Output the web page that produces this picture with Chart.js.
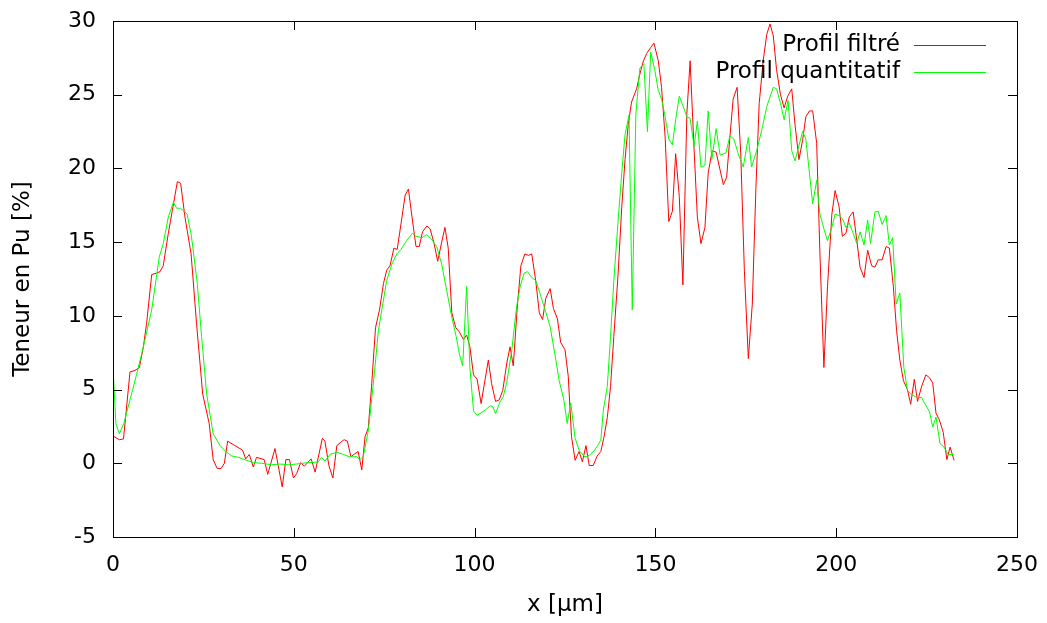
<!DOCTYPE html>
<html><head><meta charset="utf-8">
<script src="https://cdn.jsdelivr.net/npm/chart.js@4/dist/chart.umd.min.js"></script>
<style>html,body{margin:0;padding:0;background:#fff;}#c{display:block;}</style>
</head><body>
<canvas id="c" width="1047" height="623"></canvas>
<script>
const seriesNames = ["Profil filtré", "Profil quantitatif"];
const xTitle = "x [µm]";
const yTitle = "Teneur en Pu [%]";
const xTicks = [0, 50, 100, 150, 200, 250];
const yTicks = [-5, 0, 5, 10, 15, 20, 25, 30];

const filtreX = [0.0,1.75,2.9,4.7,6.1,7.3,8.4,9.3,10.7,12.1,13.0,13.9,15.3,17.8,18.7,19.9,21.6,23.1,24.8,26.6,27.7,28.8,29.9,30.8,31.7,33.7,35.8,36.7,37.7,38.8,39.7,41.8,42.8,44.8,46.8,47.8,48.8,49.9,50.8,51.9,52.9,54.8,55.9,57.9,58.6,59.7,60.8,61.9,63.9,64.8,65.8,66.9,67.8,68.8,69.7,70.6,71.5,72.6,73.7,74.8,75.7,76.6,77.7,78.6,79.8,80.8,81.7,82.8,83.8,84.7,85.6,86.8,87.7,88.8,89.8,90.9,91.8,92.7,93.7,94.8,95.8,96.9,97.8,98.7,99.7,100.7,101.8,103.8,104.7,105.8,106.8,107.8,108.9,109.8,110.7,111.8,112.8,113.9,114.9,115.8,116.9,117.9,118.8,119.7,120.9,121.8,122.9,123.8,125.0,125.9,126.8,127.8,128.9,129.8,130.8,131.7,132.8,133.9,134.9,135.8,136.7,137.6,138.5,139.7,140.7,141.6,142.5,143.4,144.8,145.7,146.7,147.6,148.7,149.6,150.8,151.7,152.7,153.7,154.7,155.6,156.6,157.6,158.7,159.6,160.7,161.6,162.6,163.7,164.6,165.7,166.8,167.7,168.8,169.7,170.6,171.5,172.6,173.6,174.6,175.7,176.8,177.8,178.7,179.8,180.8,181.7,182.6,183.5,184.6,185.6,186.6,187.7,188.6,189.7,190.7,191.6,192.6,193.5,194.6,195.5,196.6,197.6,198.8,199.7,200.8,201.7,202.7,203.6,204.7,205.7,206.6,207.7,208.7,209.8,210.7,211.6,212.7,213.8,214.7,215.8,216.7,217.6,218.6,219.7,220.6,221.6,222.5,223.6,224.8,225.8,226.7,227.6,228.5,229.6,230.6,231.5,232.6];
const filtreY = [1.85,1.6,1.65,6.2,6.3,6.5,7.9,9.5,12.8,12.9,13.0,13.4,15.6,19.1,19.0,16.7,14.2,9.5,4.7,2.7,0.25,-0.35,-0.35,0.0,1.5,1.2,0.9,0.3,0.6,-0.25,0.4,0.25,-0.75,1.0,-1.6,0.25,0.25,-1.0,-0.7,0.05,-0.2,0.3,-0.6,1.7,1.5,-0.15,-1.0,1.2,1.6,1.5,0.45,0.65,0.8,-0.45,1.8,2.4,5.2,9.2,10.4,12.2,13.1,13.4,14.6,14.5,16.5,18.2,18.6,16.5,14.7,14.7,15.7,16.1,15.9,14.9,13.7,15.0,16.0,14.6,10.2,9.2,8.9,8.4,8.7,7.9,6.0,5.7,4.05,7.0,5.4,4.2,4.3,4.95,6.8,7.9,6.6,10.6,13.4,14.2,14.1,14.2,12.4,10.2,9.75,11.2,11.85,10.5,9.8,8.2,7.7,5.9,1.8,0.2,0.8,0.1,1.2,-0.15,-0.15,0.5,0.8,1.8,3.1,5.2,8.6,12.9,17.4,20.6,23.0,24.5,25.4,26.4,27.3,27.8,28.2,28.5,27.3,25.5,22.1,16.4,17.1,21.0,18.1,12.1,23.7,27.3,21.3,16.7,14.9,16.0,19.7,21.2,21.1,20.1,18.9,19.4,22.1,24.7,25.5,21.0,13.1,7.1,10.8,18.7,24.4,27.3,29.1,29.8,29.0,26.7,25.0,24.1,24.9,25.4,23.0,20.6,21.9,23.5,23.9,23.9,21.7,14.2,6.5,12.0,16.9,18.5,17.4,15.4,15.6,16.7,17.05,15.1,13.3,12.6,14.45,13.4,13.3,13.8,13.8,14.7,14.6,12.0,9.0,7.0,5.6,5.0,4.0,5.7,4.2,5.2,6.0,5.8,5.45,3.4,2.96,2.1,0.25,1.1,0.2];

const quantX = [0.0,0.8,1.75,3.0,4.7,6.5,8.4,10.7,12.8,13.9,15.3,16.7,17.6,18.7,20.5,21.7,23.3,24.5,25.9,27.7,29.6,31.2,32.8,34.7,37.0,38.8,41.1,43.9,46.2,48.5,50.8,53.1,55.9,56.8,57.7,58.6,60.0,61.9,63.7,65.5,67.4,68.3,69.2,70.6,72.0,73.4,74.6,75.7,77.1,78.5,79.6,81.2,82.8,83.8,85.4,86.8,88.1,89.5,90.9,92.3,93.7,94.9,95.8,96.7,97.8,98.7,99.7,100.7,102.9,104.3,105.0,105.8,107.0,107.9,108.9,110.3,111.6,112.7,113.7,114.6,115.8,116.9,118.1,119.5,120.9,122.2,123.4,124.7,125.6,126.6,127.8,129.0,130.5,131.7,133.0,134.0,134.9,135.6,136.7,137.6,138.5,139.7,140.7,141.6,142.7,143.6,144.6,145.7,146.8,147.8,148.7,149.8,150.8,151.7,152.7,153.7,154.7,155.6,156.6,157.7,158.7,159.6,160.7,161.6,162.6,163.7,164.6,165.6,166.8,167.9,169.5,170.6,171.7,172.9,174.3,175.7,176.6,178.0,179.4,180.8,182.6,183.5,184.6,185.6,186.7,187.7,188.6,190.7,191.6,193.5,194.6,195.5,196.6,197.6,198.8,199.7,200.8,201.7,202.7,203.6,204.7,205.7,206.6,207.7,208.7,209.5,210.7,211.6,212.7,213.8,214.7,215.6,216.6,217.6,218.7,219.7,220.7,222.3,223.6,224.5,225.8,226.7,227.6,228.7,229.8,231.0,232.6];
const quantY = [6.5,2.7,2.0,2.7,4.3,6.0,7.9,10.4,14.0,14.9,16.7,17.7,17.3,17.3,16.9,15.4,12.2,8.6,4.7,2.0,1.2,0.8,0.5,0.4,0.2,0.05,0.0,-0.1,-0.05,-0.1,-0.05,0.02,0.07,0.1,0.4,0.15,0.6,0.75,0.6,0.43,0.45,0.25,0.45,2.2,5.4,9.0,10.8,12.4,13.5,14.2,14.5,15.1,15.6,15.4,15.3,15.5,15.2,14.7,13.5,11.7,9.9,8.6,7.4,6.6,12.0,6.5,3.55,3.26,3.6,3.9,3.85,3.37,4.16,4.5,5.5,7.7,10.6,12.1,12.9,13.0,12.6,12.4,11.5,10.4,9.25,7.4,5.6,4.27,2.7,4.1,1.7,0.83,0.43,0.54,0.83,1.2,1.56,3.6,5.2,8.6,12.4,16.5,19.7,22.3,23.6,10.4,23.7,26.8,27.1,22.5,27.9,26.7,25.3,24.7,23.5,22.0,21.6,23.3,24.9,24.2,23.5,23.4,21.5,23.2,20.1,20.2,23.9,20.6,22.7,20.9,21.05,22.2,22.0,21.0,20.1,22.1,20.1,21.2,22.6,24.2,25.5,25.4,24.4,23.3,24.6,21.2,20.5,22.5,22.0,17.6,19.2,16.9,15.9,15.1,16.0,16.9,16.8,16.6,16.0,16.3,15.6,14.9,15.7,14.8,16.5,14.9,17.05,17.1,16.2,16.8,14.8,15.3,10.8,11.55,6.5,4.95,4.7,4.46,4.46,4.05,3.5,2.46,3.14,1.34,1.1,0.6,0.6];

const FONT = "'DejaVu Sans', sans-serif";
const FS = 22;
const FS_TEXT = 23;

function pts(xs, ys) { return xs.map((x, i) => ({x: x, y: ys[i]})); }

const framePlugin = {
  id: 'frame',
  afterDatasetsDraw(chart) {
    const {ctx, chartArea: a, scales} = chart;
    ctx.save();
    ctx.strokeStyle = '#000';
    ctx.lineWidth = 1;
    ctx.beginPath();
    const L = 9;
    xTicks.forEach(v => {
      const px = Math.round(scales.x.getPixelForValue(v)) + 0.5;
      ctx.moveTo(px, a.bottom); ctx.lineTo(px, a.bottom - L);
      ctx.moveTo(px, a.top); ctx.lineTo(px, a.top + L);
    });
    yTicks.forEach(v => {
      const py = Math.round(scales.y.getPixelForValue(v)) + 0.5;
      ctx.moveTo(a.left, py); ctx.lineTo(a.left + L, py);
      ctx.moveTo(a.right, py); ctx.lineTo(a.right - L, py);
    });
    ctx.stroke();
    ctx.strokeRect(Math.round(a.left) + 0.5, Math.round(a.top) + 0.5, Math.round(a.right - a.left), Math.round(a.bottom - a.top));
    // legend
    ctx.font = FS_TEXT + 'px ' + FONT;
    ctx.fillStyle = '#000';
    ctx.textAlign = 'right';
    ctx.textBaseline = 'middle';
    const ds = chart.data.datasets;
    const rows = [45, 72];
    ds.forEach((d, i) => {
      ctx.fillText(d.label, 900, rows[i]);
      ctx.beginPath();
      ctx.strokeStyle = d.borderColor;
      ctx.moveTo(914, rows[i] + 0.5); ctx.lineTo(986, rows[i] + 0.5);
      ctx.stroke();
    });
    ctx.restore();
  }
};

new Chart(document.getElementById('c'), {
  type: 'line',
  data: {
    datasets: [
      {label: seriesNames[0], data: pts(filtreX, filtreY), borderColor: '#ff0000', borderWidth: 1, pointRadius: 0, tension: 0, fill: false, order: 1},
      {label: seriesNames[1], data: pts(quantX, quantY), borderColor: '#00ff00', borderWidth: 1, pointRadius: 0, tension: 0, fill: false, order: 0}
    ]
  },
  options: {
    responsive: false,
    devicePixelRatio: 1,
    animation: false,
    layout: {padding: {top: 21, right: 30, left: 0, bottom: 0}},
    plugins: {legend: {display: false}, tooltip: {enabled: false}},
    scales: {
      x: {
        type: 'linear', min: 0, max: 250,
        afterFit(s) { s.height = 86; s.paddingLeft = 0; s.paddingRight = 0; },
        afterBuildTicks(s) { s.ticks = xTicks.map(v => ({value: v})); },
        grid: {display: false, drawTicks: false},
        border: {display: false},
        ticks: {color: '#000', font: {family: FONT, size: FS}, padding: 15, maxRotation: 0},
        title: {display: true, text: xTitle, color: '#000', font: {family: FONT, size: FS_TEXT}, padding: {top: 0, bottom: 4}}
      },
      y: {
        type: 'linear', min: -5, max: 30,
        afterFit(s) { s.width = 113; s.paddingTop = 0; s.paddingBottom = 0; },
        afterBuildTicks(s) { s.ticks = yTicks.map(v => ({value: v})); },
        grid: {display: false, drawTicks: false},
        border: {display: false},
        ticks: {color: '#000', font: {family: FONT, size: FS}, padding: 17},
        title: {display: true, text: yTitle, color: '#000', font: {family: FONT, size: FS_TEXT}, padding: {top: 9, bottom: 0}}
      }
    }
  },
  plugins: [framePlugin]
});
</script>
</body></html>
